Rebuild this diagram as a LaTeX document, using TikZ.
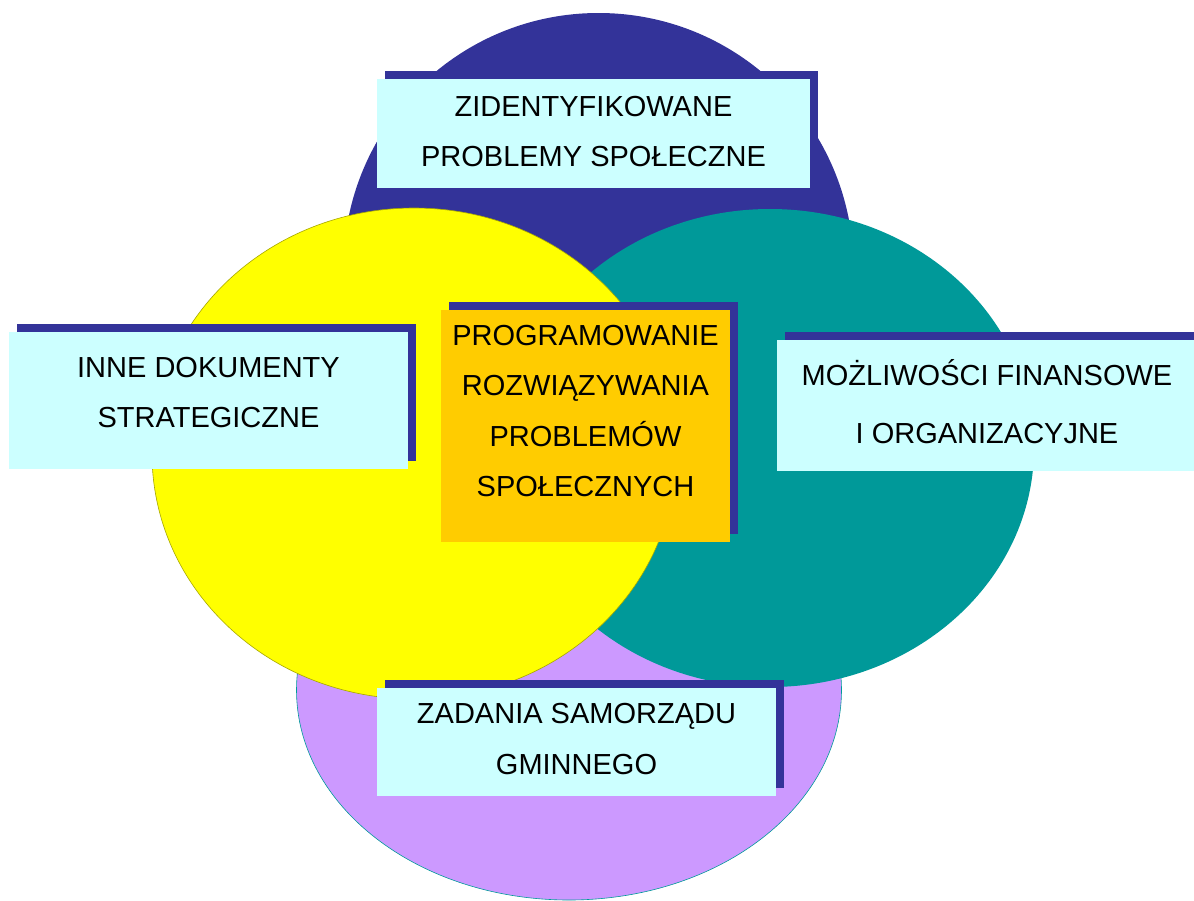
\documentclass[tikz,border=0pt]{standalone}
\usepackage{fontspec}
\setmainfont{Liberation Sans}
\usetikzlibrary{shadows}
\definecolor{venblue}{HTML}{333399}
\definecolor{ventea}{HTML}{009999}
\definecolor{venyellow}{HTML}{FFFF00}
\definecolor{venlilac}{HTML}{CC99FF}
\definecolor{venolive}{HTML}{A6A600}
\definecolor{boxcyan}{HTML}{CCFFFF}
\definecolor{boxgold}{HTML}{FFCC00}
\newcommand{\shiftup}[1]{\rule[-#1pt]{0pt}{0pt}}

\begin{document}
\begin{tikzpicture}[x=1pt,y=-1pt,
	box/.style={rectangle, fill=boxcyan, inner sep=0pt, align=center,
		font=\fontsize{29}{50.5}\selectfont,
		drop shadow={shadow xshift=8pt, shadow yshift=8pt, fill=venblue, opacity=1}}]
	\useasboundingbox (0,0) rectangle (1194,900);
	
	% the four sets
	\fill[venblue] (598.5,268) circle [radius=255pt];
	\filldraw[fill=venlilac, draw=ventea, line width=0.6pt] (569,690) ellipse [x radius=272.5pt, y radius=210pt];
	\fill[ventea] (770,448) ellipse [x radius=264pt, y radius=239pt];
	\filldraw[fill=venyellow, draw=venolive, line width=0.6pt] (414,453.5) ellipse [x radius=262pt, y radius=245.5pt];
	
	% labels
	\node[box, minimum width=433pt, minimum height=109pt] (zid) at (593.5,133.5)
		{ZIDENTYFIKOWANE\\PROBLEMY SPOŁECZNE\shiftup{4}};
	\node[box, minimum width=399pt, minimum height=137pt] (inne) at (208.5,400.5)
		{INNE DOKUMENTY\\STRATEGICZNE\shiftup{16}};
	\node[box, fill=boxgold, minimum width=289pt, minimum height=232pt] (prog) at (585.5,426)
		{PROGRAMOWANIE\\ROZWIĄZYWANIA\\PROBLEMÓW\\SPOŁECZNYCH\shiftup{30}};
	\node[box, font=\fontsize{29}{58}\selectfont, minimum width=420pt, minimum height=131pt] (moz) at (987,405.5)
		{MOŻLIWOŚCI FINANSOWE\\I ORGANIZACYJNE\shiftup{9}};
	\node[box, minimum width=399pt, minimum height=108pt] (zad) at (576.5,742)
		{ZADANIA SAMORZĄDU\\GMINNEGO\shiftup{6}};
\end{tikzpicture}
\end{document}
